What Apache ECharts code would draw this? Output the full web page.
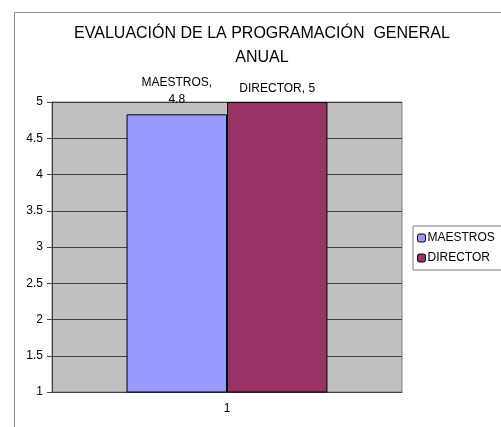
<!DOCTYPE html>
<html><head><meta charset="utf-8">
<script src="https://cdn.jsdelivr.net/npm/echarts@6/dist/echarts.min.js"></script>
<style>html,body{margin:0;padding:0;background:#fff}#c{width:501px;height:427px}</style>
</head><body><div id="c"></div>
<script>
const categories = ['1'];
const seriesNames = ['MAESTROS', 'DIRECTOR'];
const maestros = [4.83];
const director = [5];
const yMin = 1, yMax = 5, yStep = 0.5;
const colors = ['#9999ff', '#993366'];
const font = 'Liberation Sans, Arial, sans-serif';

const chart = echarts.init(document.getElementById('c'));
function lbl(p){ const v = Math.round(p.value*10)/10; return p.seriesName === 'MAESTROS' ? p.seriesName + ',\n' + v : p.seriesName + ', ' + v; }
chart.setOption({
  animation: false,
  textStyle: {fontFamily: font},
  graphic: [{type:'rect', left:12, top:10, shape:{width:600, height:600}, style:{fill:'none', stroke:'#8c8c8c', lineWidth:1}, silent:true}],
  title: {text: 'EVALUACIÓN DE LA PROGRAMACIÓN  GENERAL\nANUAL', left: 257, textAlign: 'center', top: 17,
    textStyle: {fontFamily: font, fontSize: 16, fontWeight: 'normal', color: '#000', lineHeight: 24}},
  legend: {orient: 'vertical', left: 413, top: 226, itemWidth: 8, itemHeight: 8, itemGap: 8,
    borderColor: '#808080', borderWidth: 1, padding: [6, 8, 6, 4],
    textStyle: {fontFamily: font, fontSize: 12, color: '#000', padding: [0,0,0,-3]},
    data: seriesNames.map(n => ({name: n, itemStyle: {borderColor: '#000', borderWidth: 1}}))},
  grid: {left: 52, top: 102, width: 350, height: 290, show: true, backgroundColor: '#c0c0c0', borderColor: '#808080', borderWidth: 1},
  xAxis: {type: 'category', data: categories, axisLine: {lineStyle: {color: '#404040'}},
    axisTick: {length: 5, lineStyle: {color: '#404040'}},
    axisLabel: {fontFamily: font, fontSize: 12, color: '#000', margin: 11}},
  yAxis: {type: 'value', min: yMin, max: yMax, interval: yStep,
    axisLine: {show: true, lineStyle: {color: '#404040'}},
    axisTick: {show: true, length: 5, lineStyle: {color: '#404040'}},
    splitLine: {lineStyle: {color: '#404040'}},
    axisLabel: {fontFamily: font, fontSize: 12, color: '#000', margin: 9}},
  series: [
    {name: seriesNames[0], type: 'bar', data: maestros, barGap: '0%', barCategoryGap: '42.6%',
     itemStyle: {color: colors[0], borderColor: '#000', borderWidth: 1},
     label: {show: true, position: 'top', distance: 6, formatter: lbl, fontFamily: font, fontSize: 12, color: '#000', lineHeight: 17}},
    {name: seriesNames[1], type: 'bar', data: director, barGap: '0%', barCategoryGap: '42.6%',
     itemStyle: {color: colors[1], borderColor: '#000', borderWidth: 1},
     label: {show: true, position: 'top', distance: 7, formatter: lbl, fontFamily: font, fontSize: 12, color: '#000'}}
  ]
});
</script></body></html>
